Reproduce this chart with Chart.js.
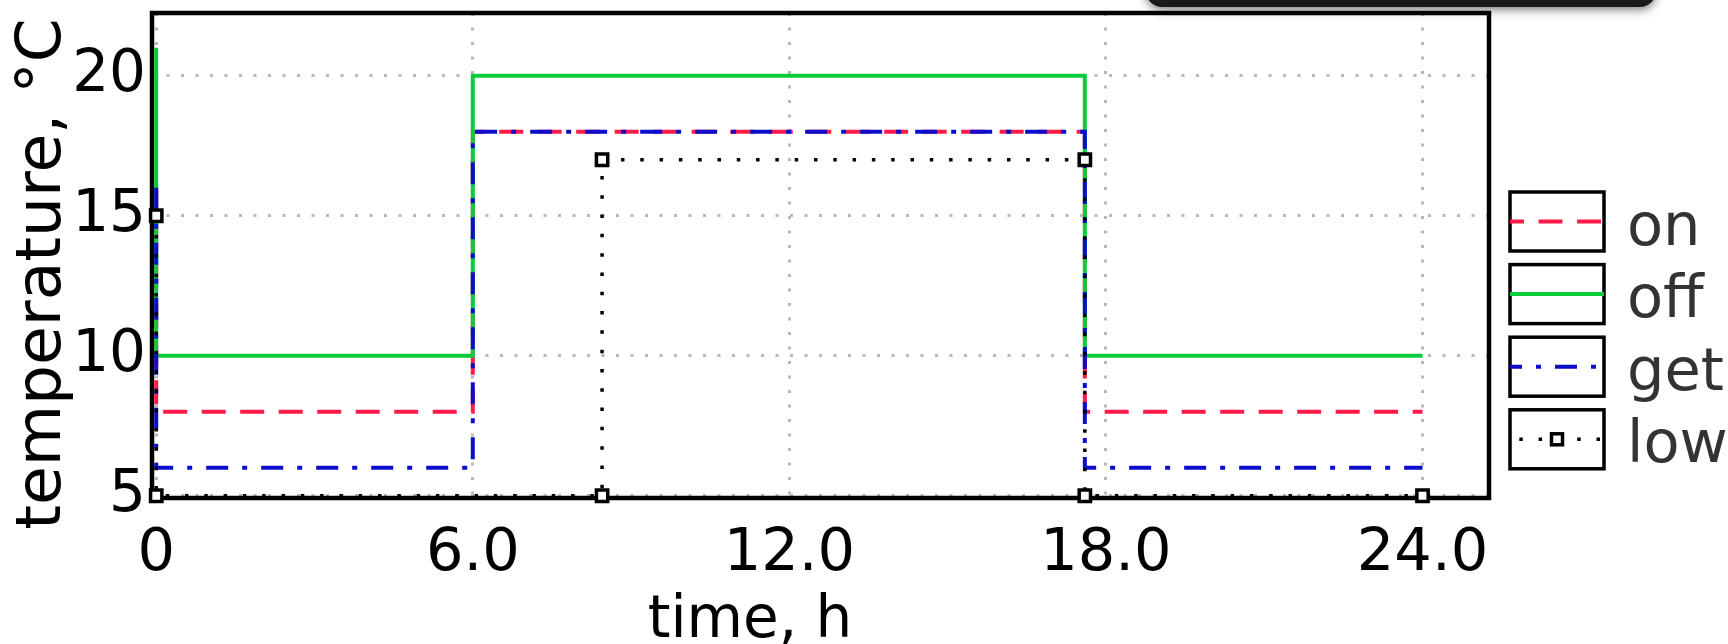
<!DOCTYPE html>
<html>
<head>
<meta charset="utf-8">
<script src="https://cdn.jsdelivr.net/npm/chart.js@4"></script>
<style>
  html, body { margin: 0; padding: 0; background: #fff; }
</style>
</head>
<body>
<canvas id="temps" width="1728" height="644"></canvas>
<script>
// Data
stepHours = [0, 0, 6, 6, 17.6, 17.6, 24];
lowHours = [0, 0, 8.45, 8.45, 17.6, 17.6, 24];
onTemps = [16, 8, 8, 18, 18, 8, 8];
offTemps = [21, 10, 10, 20, 20, 10, 10];
getTemps = [16, 6, 6, 18, 18, 6, 6];
lowTemps = [15, 5, 5, 17, 17, 5, 5];
xTicks = [0, 6, 12, 18, 24];
xTickLabels = ['0', '6.0', '12.0', '18.0', '24.0'];
yTicks = [5, 10, 15, 20];

FONT = '"DejaVu Sans", "Liberation Sans", sans-serif';
Chart.defaults.font.family = FONT;

function pts(xs, ys) {
  return xs.map((x, i) => ({x: x, y: ys[i]}));
}

data = {
  datasets: [
    {
      label: 'on',
      data: pts(stepHours, onTemps),
      borderColor: '#ff1a4a',
      borderWidth: 4,
      borderDash: [24, 14.5],
      pointRadius: 0,
      order: 3
    },
    {
      label: 'off',
      data: pts(stepHours, offTemps),
      borderColor: '#08cc3a',
      borderWidth: 4,
      pointRadius: 0,
      order: 2
    },
    {
      label: 'get',
      data: pts(stepHours, getTemps),
      borderColor: '#0c0ccc',
      borderWidth: 4,
      borderDash: [22, 14, 5, 14],
      pointRadius: 0,
      order: 1
    },
    {
      label: 'low',
      data: pts(lowHours, lowTemps),
      borderColor: '#000',
      borderWidth: 3.5,
      borderDash: [3.5, 15.8],
      pointStyle: 'rect',
      pointRadius: 8,
      pointBorderWidth: 3.5,
      pointBackgroundColor: '#fff',
      pointBorderColor: '#000',
      clip: 10,
      order: 0
    }
  ]
};

// frame, axis titles, boxed legend and the clipped box at the top
extras = {
  id: 'extras',
  beforeDatasetsDraw(chart) {
    const a = chart.chartArea, ctx = chart.ctx;
    ctx.save();
    ctx.lineWidth = 4.5;
    ctx.strokeStyle = '#000';
    ctx.strokeRect(a.left, a.top, a.right - a.left, a.bottom - a.top);
    ctx.restore();
  },
  afterDraw(chart) {
    const ctx = chart.ctx;
    ctx.save();
    ctx.fillStyle = '#000';
    ctx.font = '58px ' + FONT;
    ctx.textAlign = 'center';
    ctx.textBaseline = 'alphabetic';
    ctx.fillText('time, h', 750, 637);
    ctx.font = '63px ' + FONT;
    ctx.translate(60, 274);
    ctx.rotate(-Math.PI / 2);
    ctx.fillText('temperature, \u00b0C', 0, 0);
    ctx.restore();

    chart.data.datasets.forEach((ds, i) => {
      const bx = 1510, by = 192 + i * 72.6, bw = 94, bh = 59, cy = by + bh / 2;
      ctx.save();
      ctx.setLineDash([]);
      ctx.lineWidth = 3.5;
      ctx.strokeStyle = '#000';
      ctx.strokeRect(bx, by, bw, bh);
      ctx.beginPath();
      ctx.rect(bx, by, bw, bh);
      ctx.clip();
      ctx.strokeStyle = ds.borderColor;
      ctx.lineWidth = ds.borderWidth;
      ctx.setLineDash(ds.borderDash || []);
      ctx.lineDashOffset = 10;
      ctx.beginPath();
      ctx.moveTo(bx, cy);
      ctx.lineTo(bx + bw, cy);
      ctx.stroke();
      if (ds.pointRadius > 0) {
        ctx.setLineDash([]);
        ctx.lineWidth = ds.pointBorderWidth;
        ctx.fillStyle = ds.pointBackgroundColor;
        ctx.fillRect(bx + bw / 2 - 5.5, cy - 5.5, 11, 11);
        ctx.strokeRect(bx + bw / 2 - 5.5, cy - 5.5, 11, 11);
      }
      ctx.restore();
      ctx.save();
      ctx.fillStyle = '#333';
      ctx.font = '59px ' + FONT;
      ctx.textBaseline = 'alphabetic';
      ctx.fillText(ds.label, 1627, cy + 23);
      ctx.restore();
    });

    ctx.save();
    ctx.shadowColor = 'rgba(0,0,0,0.5)';
    ctx.shadowBlur = 10;
    ctx.shadowOffsetY = 3;
    ctx.fillStyle = '#1a1a1a';
    ctx.beginPath();
    ctx.roundRect(1146, -30, 510, 37, 16);
    ctx.fill();
    ctx.restore();
  }
};

config = {
  type: 'line',
  data: data,
  options: {
    responsive: false,
    animation: false,
    devicePixelRatio: 1,
    layout: { padding: { top: 13, right: 239, left: 0, bottom: 0 } },
    plugins: { legend: { display: false }, tooltip: { enabled: false } },
    scales: {
      x: {
        type: 'linear',
        min: -0.08,
        max: 25.26,
        afterBuildTicks: s => { s.ticks = xTicks.map(v => ({value: v})); },
        afterFit: s => { s.height = 146; s.paddingLeft = 0; s.paddingRight = 0; },
        ticks: {
          color: '#000',
          font: { size: 59 },
          padding: 21,
          maxRotation: 0,
          callback: (v) => xTickLabels[xTicks.indexOf(v)]
        },
        grid: { color: '#b8b8b8', lineWidth: 3, drawTicks: false },
        border: { display: false, dash: [3, 11.5] }
      },
      y: {
        min: 4.92,
        max: 22.24,
        afterBuildTicks: s => { s.ticks = yTicks.map(v => ({value: v})); },
        afterFit: s => { s.width = 152; s.paddingTop = 0; s.paddingBottom = 0; },
        ticks: {
          color: '#000',
          font: { size: 58 },
          padding: 6
        },
        grid: { color: '#b8b8b8', lineWidth: 3, drawTicks: false },
        border: { display: false, dash: [3, 11.5] }
      }
    }
  },
  plugins: [extras]
};

ctx = document.getElementById('temps').getContext('2d');
tempChart = new Chart(ctx, config);
</script>
</body>
</html>
